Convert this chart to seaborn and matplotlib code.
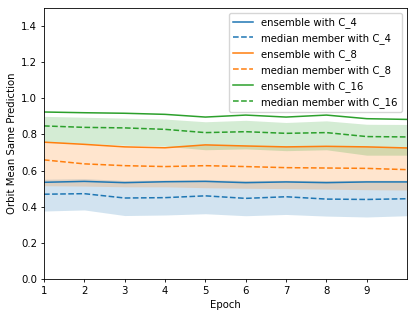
import numpy as np
import pandas as pd
import matplotlib
matplotlib.use("Agg")
import matplotlib.pyplot as plt
import seaborn as sns

epochs = [1, 2, 3, 4, 5, 6, 7, 8, 9, 10]
group_names = ["C_4", "C_8", "C_16"]

ensemble = {
    "C_4": [0.535, 0.540, 0.533, 0.538, 0.540, 0.533, 0.537, 0.533, 0.537, 0.537],
    "C_8": [0.757, 0.745, 0.731, 0.726, 0.742, 0.736, 0.731, 0.734, 0.731, 0.725],
    "C_16": [0.924, 0.920, 0.917, 0.911, 0.896, 0.907, 0.896, 0.907, 0.887, 0.883],
}
median_member = {
    "C_4": [0.469, 0.472, 0.448, 0.450, 0.460, 0.446, 0.455, 0.442, 0.440, 0.444],
    "C_8": [0.659, 0.637, 0.627, 0.622, 0.627, 0.622, 0.616, 0.614, 0.612, 0.605],
    "C_16": [0.847, 0.839, 0.836, 0.828, 0.810, 0.815, 0.806, 0.810, 0.788, 0.786],
}
band_low = {
    "C_4": [0.376, 0.382, 0.351, 0.354, 0.361, 0.350, 0.357, 0.348, 0.343, 0.350],
    "C_8": [0.516, 0.514, 0.510, 0.510, 0.505, 0.502, 0.500, 0.497, 0.494, 0.492],
    "C_16": [0.760, 0.750, 0.740, 0.735, 0.715, 0.720, 0.710, 0.715, 0.685, 0.685],
}
band_high = {
    "C_4": [0.552, 0.555, 0.545, 0.548, 0.550, 0.545, 0.546, 0.545, 0.546, 0.546],
    "C_8": [0.762, 0.750, 0.736, 0.731, 0.746, 0.740, 0.735, 0.738, 0.735, 0.730],
    "C_16": [0.900, 0.895, 0.890, 0.885, 0.870, 0.878, 0.866, 0.875, 0.856, 0.855],
}

colors = ["#1f77b4", "#ff7f0e", "#2ca02c"]
fs = 7.3
lw = 1.1

fig, ax = plt.subplots(figsize=(4.15, 3.17), dpi=100)
fig.subplots_adjust(left=0.106, right=0.981, top=0.975, bottom=0.12)

for name, col in zip(group_names, colors):
    df = pd.DataFrame({"epoch": epochs, "ens": ensemble[name], "med": median_member[name]})
    sns.lineplot(data=df, x="epoch", y="ens", color=col, lw=lw, ax=ax,
                 label="ensemble with " + name)
    sns.lineplot(data=df, x="epoch", y="med", color=col, lw=lw, ls="--", ax=ax,
                 label="median member with " + name)
    ax.fill_between(epochs, band_low[name], band_high[name], color=col, alpha=0.2, lw=0)

ax.set_xlim(1, 10)
ax.set_ylim(0, 1.5)
ax.set_xticks(range(1, 10))
ax.set_yticks(np.arange(0, 1.41, 0.2))
ax.tick_params(labelsize=fs, width=0.6, length=2.5, pad=2.5)
for s in ax.spines.values():
    s.set_linewidth(0.6)
ax.set_xlabel("Epoch", fontsize=fs, labelpad=2.9)
ax.set_ylabel("Orbit Mean Same Prediction", fontsize=fs, labelpad=2.9)
ax.legend(loc="upper right", fontsize=fs)

fig.savefig("out.png", dpi=100)
